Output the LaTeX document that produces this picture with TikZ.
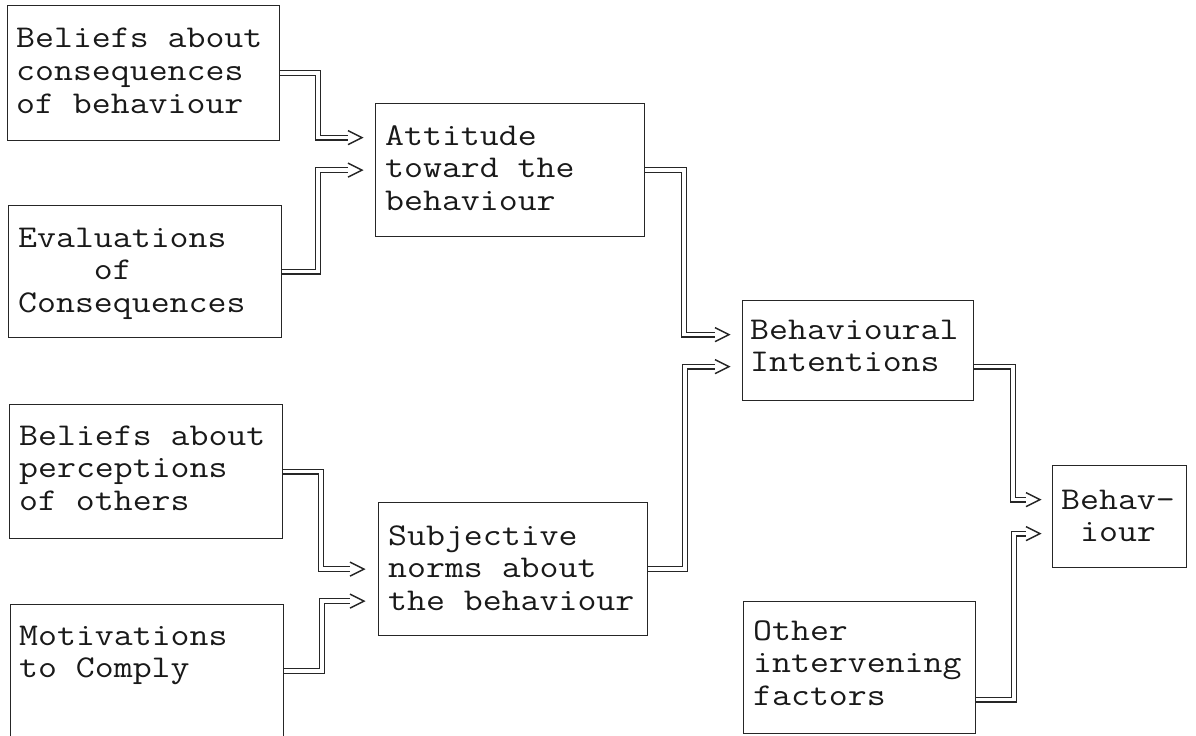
\documentclass[tikz,border=0pt]{standalone}
\usepackage{fontspec}
\newfontfamily\boxfont[FakeStretch=1.16]{Latin Modern Mono}
\begin{document}
\begin{tikzpicture}[x=1bp,y=-1bp,
  box/.style={draw=black!85, line width=1.2bp, inner sep=0pt, anchor=north west},
  label/.style={inner sep=0pt, anchor=base west, text=black!90,
    font=\boxfont\fontsize{31.7bp}{32.6bp}\selectfont},
  conn/.style={draw=black!85, line width=1.2bp, double=white, double distance=3.6bp},
  chev/.style={draw=black!85, line width=1.4bp, line join=miter}
]
\useasboundingbox (0,0) rectangle (1196,736);
\newcommand{\lines}[1]{\begin{tabular}[t]{@{}l@{}}#1\end{tabular}}

% boxes
\node[box, minimum width=272bp, minimum height=135bp] (b1) at (7,5) {};
\node[box, minimum width=273bp, minimum height=132bp] (b2) at (8,205) {};
\node[box, minimum width=273bp, minimum height=134bp] (b3) at (9,404) {};
\node[box, minimum width=273bp, minimum height=133bp] (b4) at (10,604) {};
\node[box, minimum width=269bp, minimum height=133bp] (att) at (375,103) {};
\node[box, minimum width=269bp, minimum height=133bp] (subj) at (378,502) {};
\node[box, minimum width=231bp, minimum height=100bp] (bi) at (742,300) {};
\node[box, minimum width=134bp, minimum height=102bp] (beh) at (1052,465) {};
\node[box, minimum width=232bp, minimum height=132bp] (oth) at (743,601) {};

% texts
\node[label] (b1t) at (16,48) {\lines{Beliefs about\\consequences\\of behaviour}};
\node[label] (b2t) at (18,247) {\lines{Evaluations\\\phantom{xxxx}of\\Consequences}};
\node[label] (b3t) at (19,445) {\lines{Beliefs about\\perceptions\\of others}};
\node[label] (b4t) at (19,645) {\lines{Motivations\\to Comply}};
\node[label] (attt) at (385,145) {\lines{Attitude\\toward the\\behaviour}};
\node[label] (subjt) at (388,545) {\lines{Subjective\\norms about\\the behaviour}};
\node[label] (bit) at (750,339) {\lines{Behavioural\\Intentions}};
\node[label] (beht) at (1061,509) {\lines{Behav-\\\phantom{x}iour}};
\node[label] (otht) at (753,640) {\lines{Other\\intervening\\factors}};

% ends of the connectors, just in front of the arrow heads
\coordinate (e1) at ([shift={(-27,-32.5)}]att.west);
\coordinate (e2) at ([shift={(-27,0)}]att.west);
\coordinate (e3) at ([shift={(-27,-16)}]bi.west);
\coordinate (e4) at ([shift={(-27,16)}]bi.west);
\coordinate (e5) at ([shift={(-28,0)}]subj.west);
\coordinate (e6) at ([shift={(-28,32)}]subj.west);
\coordinate (e7) at ([shift={(-26,-17)}]beh.west);
\coordinate (e8) at ([shift={(-26,17)}]beh.west);

% double-line connectors
\draw[conn] (b1.east) -- ++(38,0) |- (e1);
\draw[conn] (b2.east) -- ++(36,0) |- (e2);
\draw[conn] (att.east) -- ++(39,0) |- (e3);
\draw[conn] (subj.east) -- ++(37,0) |- (e4);
\draw[conn] (b3.east) -- ++(38,0) |- (e5);
\draw[conn] (b4.east) -- ++(38,0) |- (e6);
\draw[conn] ([shift={(0,16)}]bi.east) -- ++(39,0) |- (e7);
\draw[conn] ([shift={(0,32)}]oth.east) -- ++(38,0) |- (e8);

% open arrow heads
\foreach \e in {e1,e2,e3,e4,e5,e6,e7,e8}
  \draw[chev] ([shift={(0,-7)}]\e) -- ++(14,7) -- ++(-14,7);
\end{tikzpicture}
\end{document}
